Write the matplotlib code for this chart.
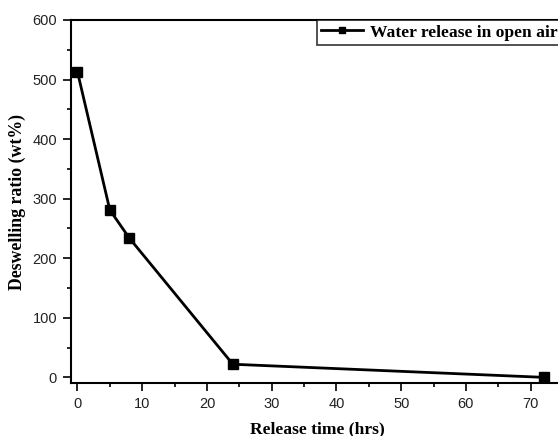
import matplotlib
matplotlib.use("Agg")
import matplotlib.pyplot as plt
from matplotlib.ticker import MultipleLocator

time_hrs = [0, 5, 8, 24, 72]
deswelling = [513, 281, 234, 22, 0]
series_label = "Water release in open air"
x_label = "Release time (hrs)"
y_label = "Deswelling ratio (wt%)"

fig = plt.figure(figsize=(5.58, 4.36), dpi=100)
ax = fig.add_axes([71/558, 52.7/436, 492/558, 363.3/436])

ax.plot(time_hrs, deswelling, color="black", lw=2, marker="s", ms=6.5,
        markerfacecolor="black", markeredgecolor="black", label=series_label)

ax.set_xlim(-1, 75)
ax.set_ylim(-10, 600)
ax.xaxis.set_major_locator(MultipleLocator(10))
ax.xaxis.set_minor_locator(MultipleLocator(5))
ax.yaxis.set_major_locator(MultipleLocator(100))
ax.yaxis.set_minor_locator(MultipleLocator(50))
ax.tick_params(which="major", direction="out", length=6, width=1.2,
               labelsize=10.5, pad=4)
ax.tick_params(which="minor", direction="out", length=3, width=1.2)
for lab in ax.get_xticklabels() + ax.get_yticklabels():
    lab.set_fontfamily("Liberation Sans")
    lab.set_color("#222222")
for sp in ax.spines.values():
    sp.set_linewidth(1.5)

ax.set_xlabel(x_label, fontfamily="Liberation Serif", fontweight="bold",
              fontsize=12.6, labelpad=7)
ax.set_ylabel(y_label, fontfamily="Liberation Serif", fontweight="bold",
              fontsize=12.8, labelpad=5)

leg = ax.legend(loc="upper right", bbox_to_anchor=(0.997, 1.0),
                prop={"family": "Liberation Serif", "weight": "bold", "size": 12.6},
                frameon=True, fancybox=False, edgecolor="black",
                handlelength=2.35, handletextpad=0.4, borderpad=0.25,
                borderaxespad=0, markerscale=0.75)
leg.get_frame().set_linewidth(1.2)

fig.savefig("out.png", dpi=100)
